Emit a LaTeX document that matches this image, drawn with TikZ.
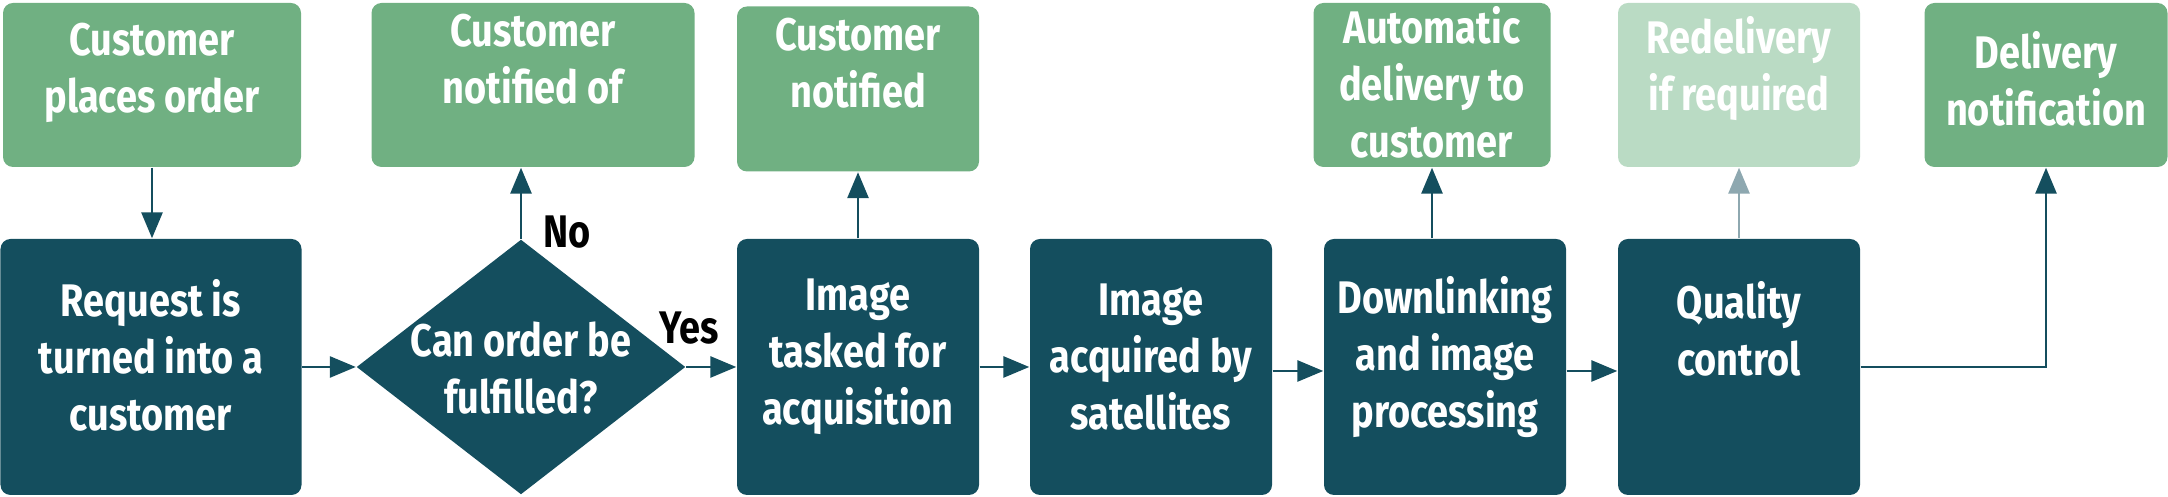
\documentclass[tikz,border=0pt]{standalone}
\usepackage{fontspec}
\setmainfont{Fira Sans}[FakeStretch=0.83]
\usetikzlibrary{shapes.geometric,arrows.meta}
\definecolor{darkteal}{RGB}{20,78,94}
\definecolor{sagegreen}{RGB}{112,176,130}
\definecolor{palegreen}{RGB}{186,219,196}
\definecolor{palearrow}{RGB}{142,168,176}
\tikzstyle{darkbox} = [rectangle, fill=darkteal, rounded corners=1mm,
    minimum width=2.42cm, minimum height=2.56cm]
\tikzstyle{greenbox} = [rectangle, fill=sagegreen, rounded corners=1mm,
    minimum width=2.42cm, minimum height=1.64cm]
\tikzstyle{decision} = [diamond, fill=darkteal, inner sep=0pt,
    minimum width=3.29cm, minimum height=2.55cm]
\tikzstyle{boxtext} = [text=white, align=center, font=\bfseries\fontsize{13}{16.2}\selectfont]
\tikzstyle{answer} = [font=\bfseries\fontsize{13}{16.2}\selectfont]
\tikzstyle{line} = [draw=darkteal, line width=0.8pt, -{Triangle[length=2.6mm,width=2.1mm]}]

\begin{document}
\begin{tikzpicture}
    \useasboundingbox (0,0) rectangle (21.68,4.97);
    % Place nodes
    \node [greenbox, minimum width=2.98cm] at (1.52,4.12) (order) {};
    \node [boxtext] at (1.52,4.24) (ordertext) {Customer\\places order};
    \node [darkbox, minimum width=3.01cm] at (1.51,1.30) (request) {};
    \node [boxtext] at (1.51,1.42) (requesttext) {Request is\\turned into a\\customer};
    \node [decision] at (5.21,1.30) (decide) {};
    \node [boxtext] at (5.21,1.29) (decidetext) {Can order be\\fulfilled?};
    \node [greenbox, minimum width=3.23cm] at (5.33,4.12) (notifiedof) {};
    \node [boxtext] at (5.33,4.38) (notifiedoftext) {Customer\\notified of};
    \node [darkbox] at (8.58,1.30) (tasked) {};
    \node [boxtext] at (8.58,1.40) (taskedtext) {Image\\tasked for\\acquisition};
    \node [greenbox, minimum height=1.65cm] at (8.58,4.08) (notified) {};
    \node [boxtext] at (8.58,4.34) (notifiedtext) {Customer\\notified};
    \node [darkbox] at (11.51,1.30) (acquired) {};
    \node [boxtext] at (11.51,1.40) (acquiredtext) {Image\\acquired by\\satellites};
    \node [darkbox] at (14.45,1.30) (downlink) {};
    \node [boxtext] at (14.45,1.40) (downlinktext) {Downlinking\\and image\\processing};
    \node [greenbox, minimum width=2.37cm] at (14.32,4.12) (automatic) {};
    \node [boxtext] at (14.32,4.15) (automatictext) {Automatic\\delivery to\\customer};
    \node [darkbox] at (17.39,1.30) (quality) {};
    \node [boxtext] at (17.39,1.68) (qualitytext) {Quality\\control};
    \node [greenbox, fill=palegreen] at (17.39,4.12) (redelivery) {};
    \node [boxtext] at (17.39,4.28) (redeliverytext) {Redelivery\\if required};
    \node [greenbox, minimum width=2.43cm] at (20.46,4.12) (delivnote) {};
    \node [boxtext] at (20.46,4.18) (delivnotetext) {Delivery\\notification};
    \node [answer] at (5.67,2.65) (no) {No};
    \node [answer] at (6.89,1.69) (yes) {Yes};
    % Draw edges
    \path [line] (order.south) -- (order.south |- request.north);
    \path [line] (request.east) -- (decide.west);
    \path [line] (decide.north) -- (decide.north |- notifiedof.south);
    \path [line] (decide.east) -- (tasked.west);
    \path [line] (tasked.north) -- (notified.south);
    \path [line] (tasked.east) -- (acquired.west);
    \path [line] ([yshift=-0.04cm]acquired.east) -- ([yshift=-0.04cm]downlink.west);
    \path [line] (automatic.south |- downlink.north) -- (automatic.south);
    \path [line] ([yshift=-0.04cm]downlink.east) -- ([yshift=-0.04cm]quality.west);
    \path [line, draw=palearrow, fill=palearrow] (quality.north) -- (redelivery.south);
    \path [line] (quality.east) -| (delivnote.south);
\end{tikzpicture}
\end{document}
